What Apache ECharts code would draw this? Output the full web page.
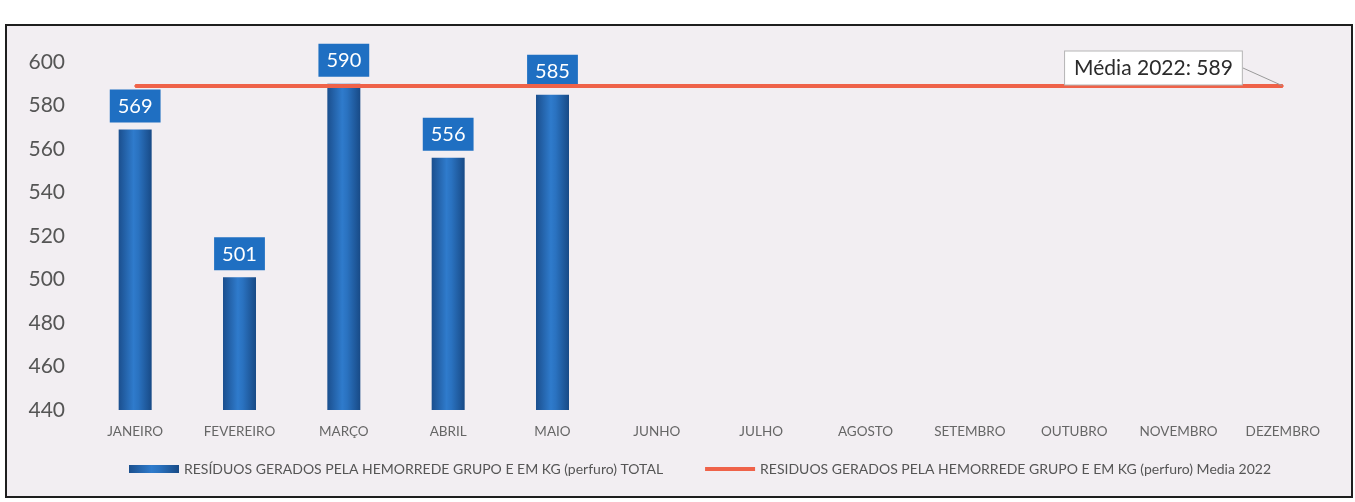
<!DOCTYPE html>
<html>
<head>
<meta charset="utf-8">
<script src="https://cdn.jsdelivr.net/npm/echarts@6/dist/echarts.min.js"></script>
<style>
  html, body { margin: 0; padding: 0; background: #ffffff; }
  #chart { width: 1355px; height: 502px; }
</style>
</head>
<body>
<div id="chart"></div>
<script>
// Monthly waste generated (kg, sharps) and the 2022 average
const months = ['JANEIRO', 'FEVEREIRO', 'MARÇO', 'ABRIL', 'MAIO', 'JUNHO',
  'JULHO', 'AGOSTO', 'SETEMBRO', 'OUTUBRO', 'NOVEMBRO', 'DEZEMBRO'];
const totals = [569, 501, 590, 556, 585, null, null, null, null, null, null, null];
const media2022 = [589, 589, 589, 589, 589, 589, 589, 589, 589, 589, 589, 589];
const yTicks = { min: 440, max: 600, step: 20 };

const nameTotal = 'RESÍDUOS GERADOS PELA HEMORREDE GRUPO E EM KG (perfuro) TOTAL';
const nameMedia = 'RESIDUOS GERADOS PELA HEMORREDE GRUPO E EM KG (perfuro) Media 2022';

const font = 'Lato, "Open Sans", sans-serif';
const chart = echarts.init(document.getElementById('chart'));

const barGradient = new echarts.graphic.LinearGradient(0, 0, 1, 0, [
  { offset: 0, color: '#1b4f8e' },
  { offset: 0.45, color: '#2f7bcc' },
  { offset: 0.6, color: '#2a72c0' },
  { offset: 1, color: '#184a86' }
]);

const lastIdx = media2022.length - 1;
const mediaData = media2022.map((v, i) => {
  if (i !== lastIdx) return v;
  return {
    value: v,
    label: {
      show: true,
      position: 'left',
      distance: 0,
      formatter: 'Média 2022: {c}',
      color: '#2b2b2b',
      fontSize: 21,
      fontFamily: font,
      backgroundColor: '#ffffff',
      borderColor: '#b5b5b5',
      borderWidth: 1,
      padding: [6, 9]
    }
  };
});

chart.setOption({
  animation: false,
  backgroundColor: '#ffffff',
  graphic: [{
    type: 'rect',
    z: -10,
    shape: { x: 6, y: 25, width: 1346, height: 472 },
    style: { fill: '#f2eef2', stroke: '#1e1e1e', lineWidth: 2 }
  }],
  grid: { left: 83, right: 20, top: 62, bottom: 92 },
  legend: {
    left: 124,
    top: 457,
    itemGap: 42,
    itemWidth: 50,
    itemHeight: 8,
    textStyle: { color: '#555', fontSize: 14, fontFamily: font },
    data: [
      { name: nameTotal, icon: 'rect' },
      { name: nameMedia, icon: 'path://M0 0H50V4H0Z', itemStyle: { color: '#ef6249' } }
    ]
  },
  xAxis: {
    type: 'category',
    data: months,
    axisLine: { show: false },
    axisTick: { show: false },
    axisLabel: { color: '#666', fontSize: 13.5, fontFamily: font, margin: 15 }
  },
  yAxis: {
    type: 'value',
    min: yTicks.min,
    max: yTicks.max,
    interval: yTicks.step,
    splitLine: { show: false },
    axisLine: { show: false },
    axisTick: { show: false },
    axisLabel: { color: '#555', fontSize: 21, fontFamily: font, margin: 18 }
  },
  series: [
    {
      name: nameTotal,
      type: 'bar',
      data: totals,
      barWidth: 33,
      itemStyle: { color: barGradient },
      label: {
        show: true,
        position: 'top',
        distance: 7,
        color: '#ffffff',
        fontSize: 20,
        fontFamily: font,
        backgroundColor: '#1f6fc2',
        padding: [7, 8, 6, 8]
      }
    },
    {
      name: nameMedia,
      type: 'line',
      data: mediaData,
      symbol: 'circle',
      symbolSize: 2,
      showSymbol: true,
      lineStyle: { color: '#ef6249', width: 4 },
      itemStyle: { color: '#ef6249' },
      labelLayout: (params) => params.dataIndex === lastIdx ? { dx: -40, dy: -18 } : {},
      labelLine: { show: true, lineStyle: { color: '#9a9a9a', width: 1 } },
      z: 3
    }
  ]
});
</script>
</body>
</html>
